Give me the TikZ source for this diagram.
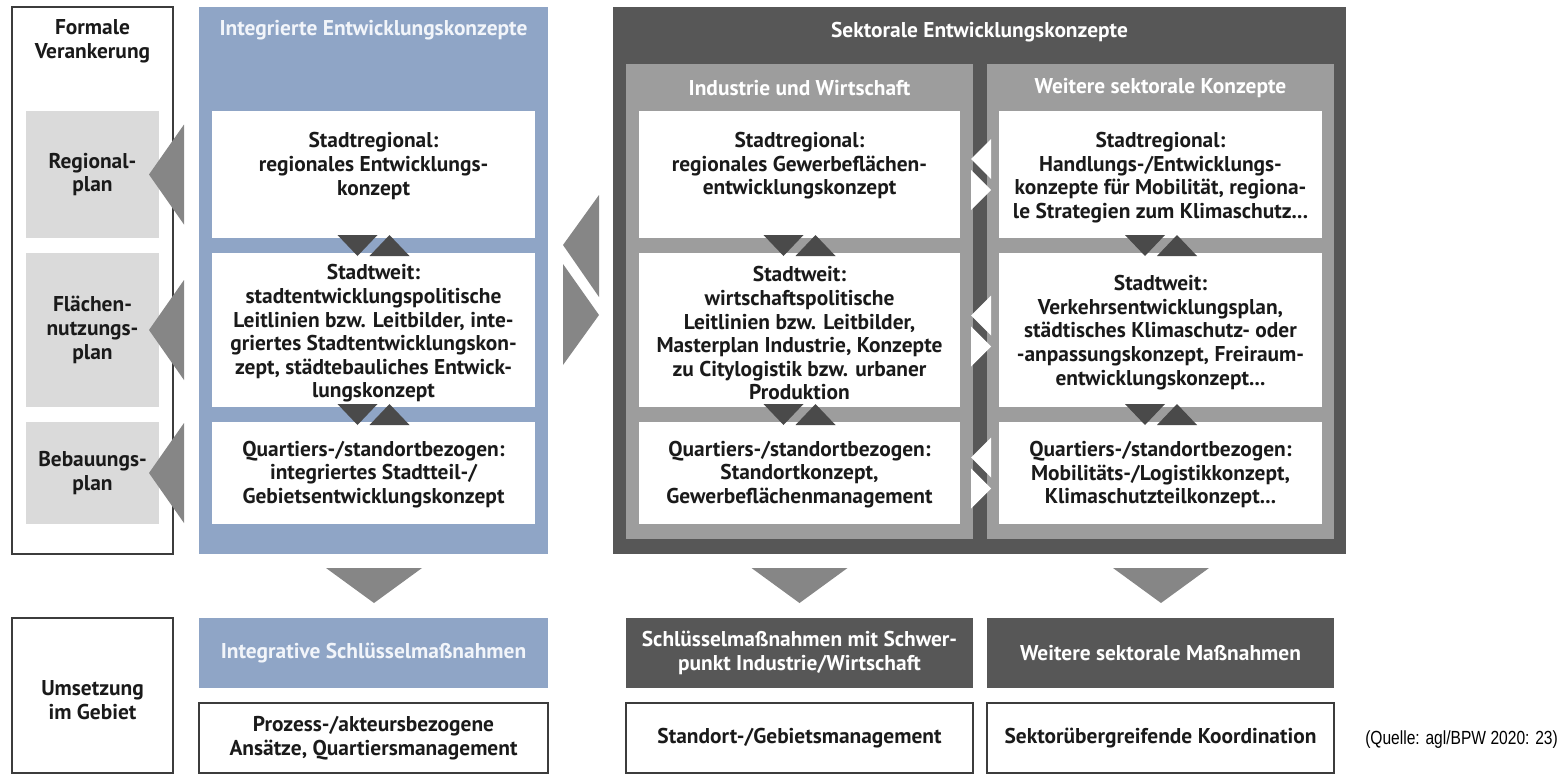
\documentclass[tikz,border=0pt]{standalone}
\usepackage{graphicx}
\usepackage{fontspec}
\setmainfont{PT Sans}
\newfontfamily\qfont{Liberation Sans}
\definecolor{bluecol}{RGB}{143,165,198}
\definecolor{darkcol}{RGB}{87,87,87}
\definecolor{panelgray}{RGB}{157,157,157}
\definecolor{lightgray}{RGB}{218,218,218}
\definecolor{trigray}{RGB}{134,134,134}
\definecolor{smalltri}{RGB}{74,74,74}
\definecolor{txt}{RGB}{26,26,26}
\definecolor{bordercol}{RGB}{60,60,60}
\definecolor{headblue}{RGB}{242,245,250}
\newcommand\rbox[6]{\node[#6, inner sep=0pt, outer sep=0pt, minimum width={(#4)-(#2)}, minimum height={(#5)-(#3)}] (#1) at ({((#2)+(#4))/2},{((#3)+(#5))/2}) {};}
% small dark pair of triangles, centred at x=#1, between y #2 (top) and #3 (bottom)
\newcommand\smallpair[3]{%
  \fill[smalltri] ({#1-36},#2) -- ({#1+4},#2) -- ({#1-16},#3) -- cycle;
  \fill[smalltri] ({#1-4},#3) -- ({#1+36},#3) -- ({#1+16},#2) -- cycle;}
% white pair of side triangles centred at y=#1
\newcommand\whitepair[1]{%
  \fill[white] (971,{#1-15.5}) -- (991,{#1-35.5}) -- (991,{#1+4.5}) -- cycle;
  \fill[white] (971,{#1-4.5}) -- (971,{#1+35.5}) -- (991,{#1+15.5}) -- cycle;}
\begin{document}
\begin{tikzpicture}[x=1pt,y=-1pt,
  lbl/.style={font=\bfseries\fontsize{21.4}{23.6}\selectfont, align=center, text=txt, inner sep=0pt},
  hdr/.style={lbl, text=white},
  hdrb/.style={lbl, text=headblue},
  framed/.style={draw=bordercol, line width=1.3pt, fill=white}]
\useasboundingbox (0,0) rectangle (1559,774);

% ---------- left column
\rbox{formal}{12}{7}{173}{554}{framed}
\rbox{g1}{26}{111}{159}{238}{fill=lightgray}
\rbox{g2}{26}{253}{159}{407}{fill=lightgray}
\rbox{g3}{26}{422}{159}{524}{fill=lightgray}
\node[lbl] (tformal) at (92.5,41.5) {Formale\\Verankerung};
\node[lbl] (tg1) at (g1) {Regional-\\plan};
\node[lbl] (tg2) at (g2) {Flächen-\\nutzungs-\\plan};
\node[lbl] (tg3) at (g3) {Bebauungs-\\plan};

% ---------- integrated (blue)
\rbox{blue}{199}{7}{548}{554}{fill=bluecol}
\rbox{b1}{212}{111}{535}{238}{fill=white}
\rbox{b2}{212}{253}{535}{407}{fill=white}
\rbox{b3}{212}{422}{535}{524}{fill=white}
\node[hdrb] (tblue) at (373.5,30) {Integrierte Entwicklungskonzepte};
\node[lbl] (tb1) at (373.5,166) {Stadtregional:\\regionales Entwicklungs-\\konzept};
\node[lbl] (tb2) at (373.5,333.5) {Stadtweit:\\stadtentwicklungspolitische\\Leitlinien bzw. Leitbilder, inte-\\griertes Stadtentwicklungskon-\\zept, städtebauliches Entwick-\\lungskonzept};
\node[lbl] (tb3) at (373.5,474.5) {Quartiers-/standortbezogen:\\integriertes Stadtteil-/\\Gebietsentwicklungskonzept};

% big triangles pointing to formal plans
\fill[trigray] (149,174.5) -- (184,124.5) -- (184,224.5) -- cycle;
\fill[trigray] (149,330) -- (184,280) -- (184,380) -- cycle;
\fill[trigray] (149,473) -- (184,423) -- (184,523) -- cycle;

% ---------- sectoral (dark)
\rbox{dark}{613}{7}{1346}{554}{fill=darkcol}
\rbox{p1}{626}{64}{973}{539}{fill=panelgray}
\rbox{p2}{987}{64}{1334}{539}{fill=panelgray}
\rbox{i1}{639}{111}{960}{238}{fill=white}
\rbox{i2}{639}{253}{960}{407}{fill=white}
\rbox{i3}{639}{422}{960}{524}{fill=white}
\rbox{w1}{999}{111}{1322}{238}{fill=white}
\rbox{w2}{999}{253}{1322}{407}{fill=white}
\rbox{w3}{999}{422}{1322}{524}{fill=white}
\node[hdr] (tdark) at (979.5,32) {Sektorale Entwicklungskonzepte};
\node[hdr] (tp1) at (799.5,88) {Industrie und Wirtschaft};
\node[hdr] (tp2) at (1160.5,88) {Weitere sektorale Konzepte};
\node[lbl] (ti1) at (799.5,166) {Stadtregional:\\regionales Gewerbeflächen-\\entwicklungskonzept};
\node[lbl] (ti2) at (799.5,333.5) {Stadtweit:\\wirtschaftspolitische\\Leitlinien bzw. Leitbilder,\\Masterplan Industrie, Konzepte\\zu Citylogistik bzw. urbaner\\Produktion};
\node[lbl] (ti3) at (799.5,474.5) {Quartiers-/standortbezogen:\\Standortkonzept,\\Gewerbeflächenmanagement};
\node[lbl] (tw1) at (1160.5,177.5) {Stadtregional:\\Handlungs-/Entwicklungs-\\konzepte für Mobilität, regiona-\\le Strategien zum Klimaschutz...};
\node[lbl] (tw2) at (1160.5,332.5) {Stadtweit:\\Verkehrsentwicklungsplan,\\städtisches Klimaschutz- oder\\-anpassungskonzept, Freiraum-\\entwicklungskonzept...};
\node[lbl] (tw3) at (1160.5,474.5) {Quartiers-/standortbezogen:\\Mobilitäts-/Logistikkonzept,\\Klimaschutzteilkonzept...};

% small dark triangle pairs between levels
\smallpair{373.5}{235}{256}
\smallpair{373.5}{404}{425}
\smallpair{799.5}{235}{256}
\smallpair{799.5}{404}{425}
\smallpair{1161}{235}{256}
\smallpair{1161}{404}{425}

% white triangle pairs between the two sector panels
\whitepair{174.5}
\whitepair{331}
\whitepair{473}

% big triangles between integrated and sectoral
\fill[trigray] (563,245) -- (599,195) -- (599,297) -- cycle;
\fill[trigray] (563,264) -- (563,365) -- (599,315) -- cycle;

% ---------- implementation
\fill[trigray] (326,568) -- (422,568) -- (374,603) -- cycle;
\fill[trigray] (751.5,568) -- (847.5,568) -- (799.5,603) -- cycle;
\fill[trigray] (1113,568) -- (1209,568) -- (1161,603) -- cycle;

\rbox{ums}{12}{618}{173}{773}{framed}
\node[lbl] (tums) at (92.5,700) {Umsetzung\\im Gebiet};
\rbox{m1}{199}{618}{548}{688}{fill=bluecol}
\rbox{m2}{626}{618}{973}{688}{fill=darkcol}
\rbox{m3}{987}{618}{1334}{688}{fill=darkcol}
\node[hdrb] (tm1) at (m1) {Integrative Schlüsselmaßnahmen};
\node[hdr] (tm2) at (m2) {Schlüsselmaßnahmen mit Schwer-\\punkt Industrie/Wirtschaft};
\node[hdr] (tm3) at (m3) {Weitere sektorale Maßnahmen};
\rbox{n1}{199}{703}{548}{773}{framed}
\rbox{n2}{626}{703}{973}{773}{framed}
\rbox{n3}{987}{703}{1334}{773}{framed}
\node[lbl] (tn1) at (n1) {Prozess-/akteursbezogene\\Ansätze, Quartiersmanagement};
\node[lbl] (tn2) at (n2) {Standort-/Gebietsmanagement};
\node[lbl] (tn3) at (n3) {Sektorübergreifende Koordination};

\node[anchor=east, inner sep=0pt, text=black, font=\qfont\fontsize{19}{21}\selectfont] (src) at (1558,740) {\scalebox{0.82}[1]{(Quelle: agl/BPW 2020: 23)}};
\end{tikzpicture}
\end{document}
